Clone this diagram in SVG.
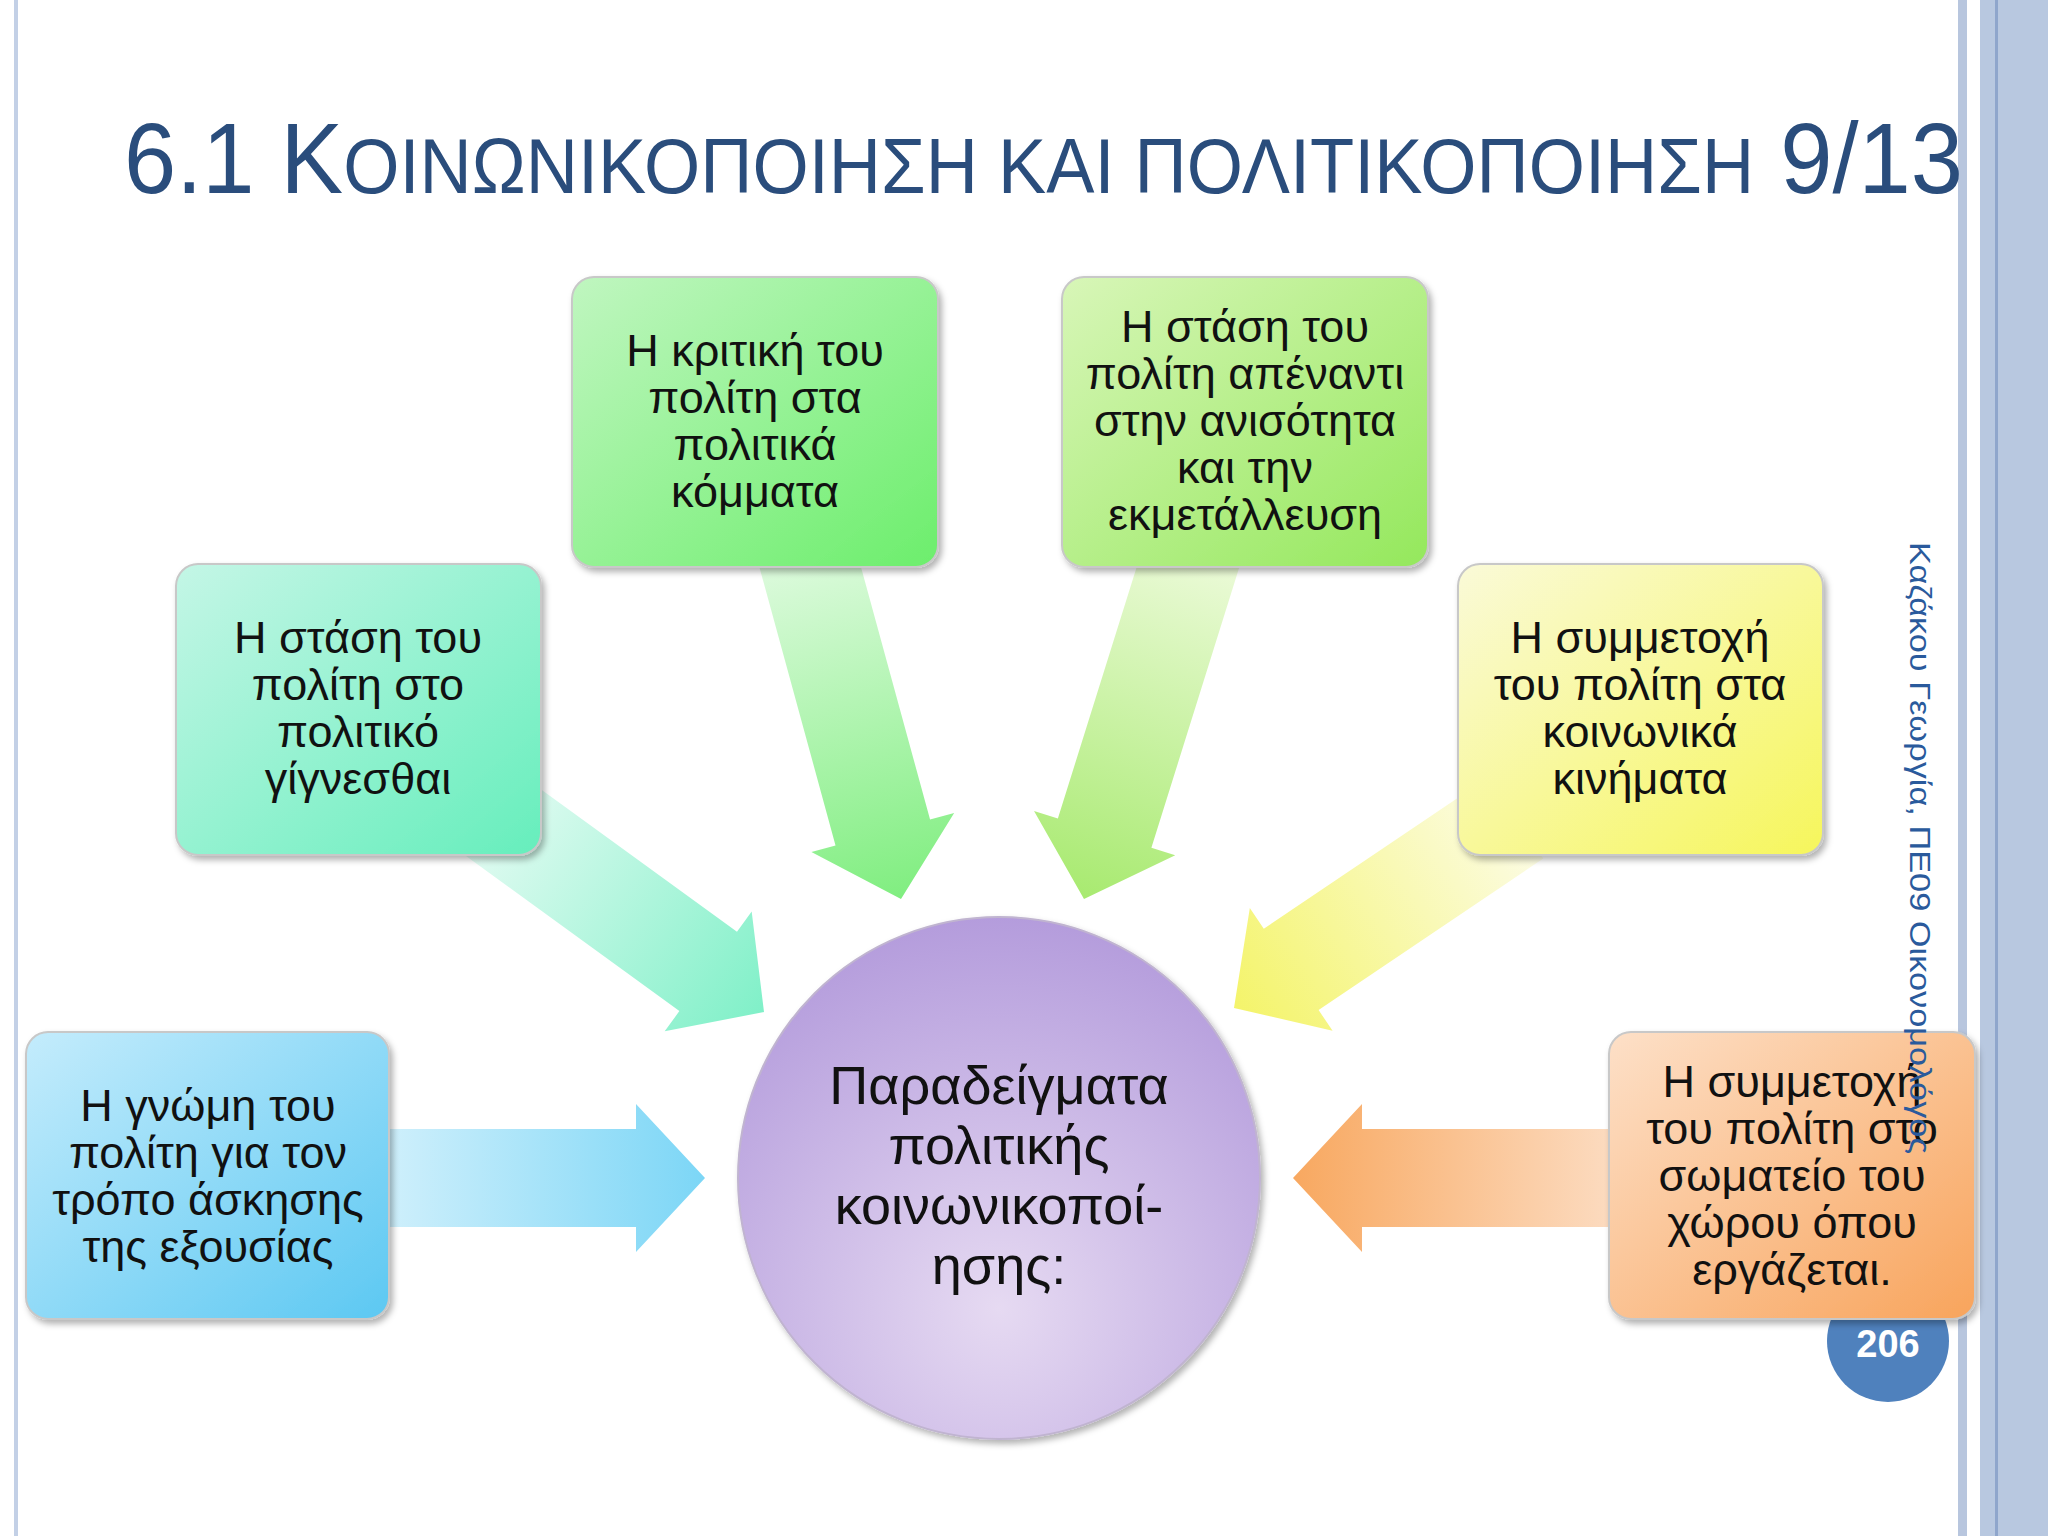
<svg xmlns="http://www.w3.org/2000/svg" width="2048" height="1536" viewBox="0 0 2048 1536">
<defs>
<style>
.t{font-family:"Liberation Sans",Arial,sans-serif;font-size:45px;fill:#111;text-anchor:middle}
.c{font-family:"Liberation Sans",Arial,sans-serif;font-size:54px;fill:#111;text-anchor:middle}
.box{stroke:#c8c8c8;stroke-width:2;filter:url(#sh)}
</style>
<filter id="sh" x="-10%" y="-10%" width="125%" height="125%"><feDropShadow dx="3" dy="4" stdDeviation="3" flood-color="#000" flood-opacity="0.3"/></filter>
<linearGradient id="gB" x1="0" y1="0" x2="1" y2="1"><stop offset="0" stop-color="#c4ecfc"/><stop offset="1" stop-color="#5cc8f2"/></linearGradient>
<linearGradient id="gT" x1="0" y1="0" x2="1" y2="1"><stop offset="0" stop-color="#c4f6e6"/><stop offset="1" stop-color="#66eebc"/></linearGradient>
<linearGradient id="gG" x1="0" y1="0" x2="1" y2="1"><stop offset="0" stop-color="#c0f6c0"/><stop offset="1" stop-color="#6cee6c"/></linearGradient>
<linearGradient id="gL" x1="0" y1="0" x2="1" y2="1"><stop offset="0" stop-color="#d8f6b8"/><stop offset="1" stop-color="#94e85c"/></linearGradient>
<linearGradient id="gY" x1="0" y1="0" x2="1" y2="1"><stop offset="0" stop-color="#fafad8"/><stop offset="1" stop-color="#f6f65c"/></linearGradient>
<linearGradient id="gO" x1="0" y1="0" x2="1" y2="1"><stop offset="0" stop-color="#fde0c8"/><stop offset="1" stop-color="#f8a45c"/></linearGradient>
<linearGradient id="aB"><stop offset="0" stop-color="#e4f6fd"/><stop offset="1" stop-color="#7cd6f6"/></linearGradient>
<linearGradient id="aT"><stop offset="0" stop-color="#e2fbf2"/><stop offset="1" stop-color="#80f0c8"/></linearGradient>
<linearGradient id="aG"><stop offset="0" stop-color="#e2fbe2"/><stop offset="1" stop-color="#80ee80"/></linearGradient>
<linearGradient id="aL"><stop offset="0" stop-color="#eefbdc"/><stop offset="1" stop-color="#a8ea70"/></linearGradient>
<linearGradient id="aY"><stop offset="0" stop-color="#fcfce4"/><stop offset="1" stop-color="#f4f46a"/></linearGradient>
<linearGradient id="aO"><stop offset="0" stop-color="#fde8d8"/><stop offset="1" stop-color="#f8a860"/></linearGradient>
<radialGradient id="gC" cx="0.5" cy="0.75" r="0.75"><stop offset="0" stop-color="#e6daf2"/><stop offset="1" stop-color="#b49cdc"/></radialGradient>
</defs>
<rect width="2048" height="1536" fill="#fff"/>
<rect x="14" y="0" width="4" height="1536" fill="#c3d0e6"/>
<rect x="1958" y="0" width="9" height="1536" fill="#b8c6de"/>
<rect x="1980" y="0" width="68" height="1536" fill="#b8c8e0"/>
<rect x="1995" y="0" width="3" height="1536" fill="#8fa6cc"/>
<text x="124" y="193" font-family="Liberation Sans,Arial,sans-serif" fill="#2a4d7c" font-size="100" textLength="1839" lengthAdjust="spacingAndGlyphs">6.1 K<tspan font-size="77">ΟΙΝΩΝΙΚΟΠΟΙΗΣΗ ΚΑΙ ΠΟΛΙΤΙΚΟΠΟΙΗΣΗ</tspan> 9/13</text>
<g id="connectors">
<g transform="translate(705,1178)"><polygon fill="url(#aB)" points="-400,-49 -69,-49 -69,-74 0,0 -69,74 -69,49 -400,49"/></g>
<g transform="translate(1293,1178) rotate(180)"><polygon fill="url(#aO)" points="-400,-49 -69,-49 -69,-74 0,0 -69,74 -69,49 -400,49"/></g>
<g transform="translate(764,1012) rotate(36)"><polygon fill="url(#aT)" points="-340,-49 -69,-49 -69,-74 0,0 -69,74 -69,49 -340,49"/></g>
<g transform="translate(901,899) rotate(74.7)"><polygon fill="url(#aG)" points="-380,-49 -69,-49 -69,-74 0,0 -69,74 -69,49 -380,49"/></g>
<g transform="translate(1084,899) rotate(107.4)"><polygon fill="url(#aL)" points="-380,-49 -69,-49 -69,-74 0,0 -69,74 -69,49 -380,49"/></g>
<g transform="translate(1234,1008) rotate(146)"><polygon fill="url(#aY)" points="-340,-49 -69,-49 -69,-74 0,0 -69,74 -69,49 -340,49"/></g>
</g>
<g id="page"><circle cx="1888" cy="1341" r="61" fill="#4f81bd"/><text x="1888" y="1357" font-family="Liberation Sans,Arial,sans-serif" font-weight="bold" font-size="38" fill="#fff" text-anchor="middle">206</text></g>
<g id="n1"><rect class="box" x="26" y="1032" width="363" height="287" rx="22" fill="url(#gB)"/>
<text class="t" x="208" y="1121">Η γνώμη του</text><text class="t" x="208" y="1168">πολίτη για τον</text><text class="t" x="208" y="1215">τρόπο άσκησης</text><text class="t" x="208" y="1262">της εξουσίας</text></g>
<g id="n2"><rect class="box" x="176" y="564" width="365" height="291" rx="22" fill="url(#gT)"/>
<text class="t" x="358" y="653">Η στάση του</text><text class="t" x="358" y="700">πολίτη στο</text><text class="t" x="358" y="747">πολιτικό</text><text class="t" x="358" y="794">γίγνεσθαι</text></g>
<g id="n3"><rect class="box" x="572" y="277" width="366" height="290" rx="22" fill="url(#gG)"/>
<text class="t" x="755" y="366">Η κριτική του</text><text class="t" x="755" y="413">πολίτη στα</text><text class="t" x="755" y="460">πολιτικά</text><text class="t" x="755" y="507">κόμματα</text></g>
<g id="n4"><rect class="box" x="1062" y="277" width="366" height="290" rx="22" fill="url(#gL)"/>
<text class="t" x="1245" y="342">Η στάση του</text><text class="t" x="1245" y="389">πολίτη απέναντι</text><text class="t" x="1245" y="436">στην ανισότητα</text><text class="t" x="1245" y="483">και την</text><text class="t" x="1245" y="530">εκμετάλλευση</text></g>
<g id="n5"><rect class="box" x="1458" y="564" width="365" height="291" rx="22" fill="url(#gY)"/>
<text class="t" x="1640" y="653">Η συμμετοχή</text><text class="t" x="1640" y="700">του πολίτη στα</text><text class="t" x="1640" y="747">κοινωνικά</text><text class="t" x="1640" y="794">κινήματα</text></g>
<g id="center"><circle cx="999" cy="1178" r="261" fill="url(#gC)" stroke="#c0b4d0" stroke-width="2" filter="url(#sh)"/>
<text class="c" x="999" y="1104">Παραδείγματα</text><text class="c" x="999" y="1164">πολιτικής</text><text class="c" x="999" y="1224">κοινωνικοποί-</text><text class="c" x="999" y="1284">ησης:</text></g>
<g id="n6"><rect class="box" x="1609" y="1032" width="366" height="287" rx="22" fill="url(#gO)"/>
<text class="t" x="1792" y="1097">Η συμμετοχή</text><text class="t" x="1792" y="1144">του πολίτη στο</text><text class="t" x="1792" y="1191">σωματείο του</text><text class="t" x="1792" y="1238">χώρου όπου</text><text class="t" x="1792" y="1285">εργάζεται.</text></g>
<g id="author"><text transform="translate(1910,542) rotate(90)" font-family="Liberation Sans Narrow,Liberation Sans,Arial,sans-serif" font-size="30" fill="#2a5a9c" textLength="612" lengthAdjust="spacingAndGlyphs">Καζάκου Γεωργία, ΠΕ09 Οικονομολόγος</text></g>
</svg>
